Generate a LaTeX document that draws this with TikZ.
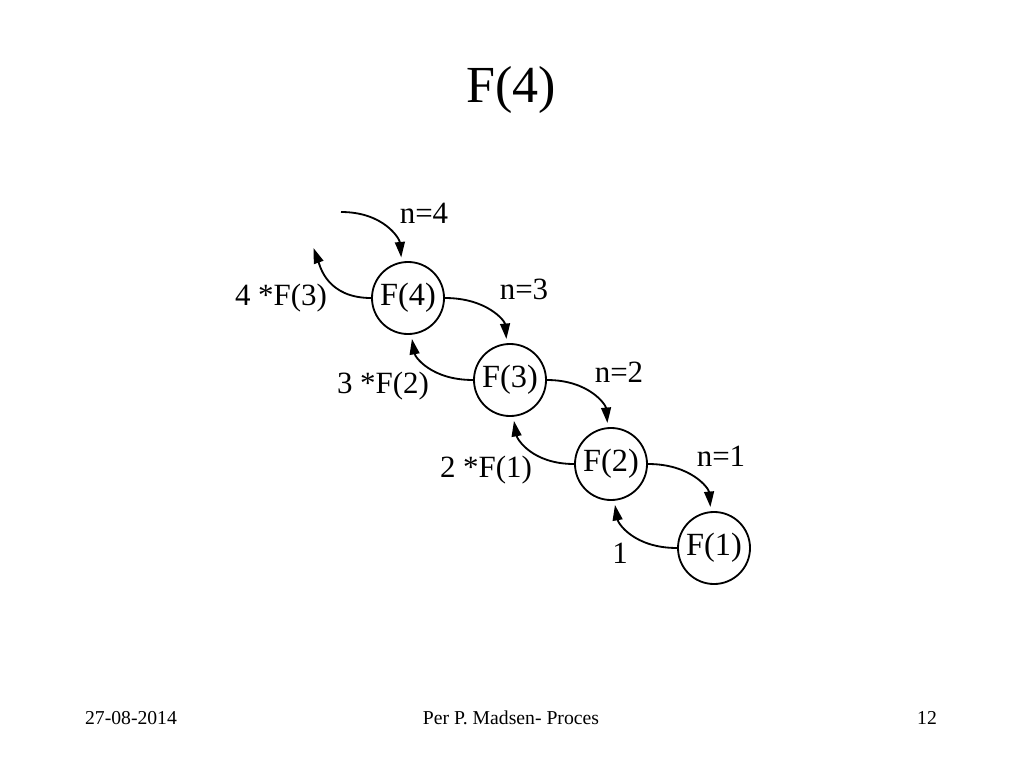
\documentclass[tikz,border=0pt]{standalone}
\usepackage{fontspec}
\setmainfont{Liberation Serif}
\usetikzlibrary{arrows.meta}
\begin{document}
\begin{tikzpicture}[x=0.025cm,y=-0.025cm,
  state/.style={circle,draw,line width=1.3pt,minimum size=1.8cm,inner sep=0pt,font=\fontsize{23}{27}\selectfont},
  lbl/.style={font=\fontsize{22}{26}\selectfont,inner sep=0pt},
  foot/.style={font=\fontsize{14}{17}\selectfont,inner sep=0pt},
  conn/.style={line width=1.3pt,-{Triangle[length=11pt,width=7pt]},shorten >=3pt},
  curvy/.style={out looseness=1.4,in looseness=0.75}]
\useasboundingbox[fill=white] (0,0) rectangle (1024,768);
\node[font=\fontsize{37}{44}\selectfont,inner sep=0pt] (title) at (511,90) {F(4)};
% states
\node[state] (f4) at (408,298) {F(4)};
\node[state] (f3) at (510,380) {F(3)};
\node[state] (f2) at (611,464) {F(2)};
\node[state] (f1) at (714,548) {F(1)};
% labels
\node[lbl] (l4) at (424,213) {n=4};
\node[lbl] (l3) at (524,289) {n=3};
\node[lbl] (l2) at (619,372) {n=2};
\node[lbl] (l1) at (721,456) {n=1};
\node[lbl] (r4) at (281,298) {4 *F(3)};
\node[lbl] (r3) at (383,386) {3 *F(2)};
\node[lbl] (r2) at (486,470) {2 *F(1)};
\node[lbl] (r1) at (620,553) {1};
% free ends
\coordinate (in4) at (341,212);
\coordinate (out4) at (312,244);
% calls
\draw[conn] (in4) to[out=0,in=95,curvy] (f4.100);
\draw[conn] (f4.east) to[out=0,in=95,curvy] (f3.95);
\draw[conn] (f3.east) to[out=0,in=95,curvy] (f2.95);
\draw[conn] (f2.east) to[out=0,in=95,curvy] (f1.95);
% returns
\draw[conn] (f4.west) to[out=180,in=-70,curvy] (out4);
\draw[conn] (f3.west) to[out=180,in=-80,curvy] (f4.-85);
\draw[conn] (f2.west) to[out=180,in=-80,curvy] (f3.-85);
\draw[conn] (f1.west) to[out=180,in=-80,curvy] (f2.-85);
% footer
\node[foot] (date) at (131,718) {27-08-2014};
\node[foot] (auth) at (511,718) {Per P. Madsen- Proces};
\node[foot] (page) at (927,718) {12};
\end{tikzpicture}
\end{document}
